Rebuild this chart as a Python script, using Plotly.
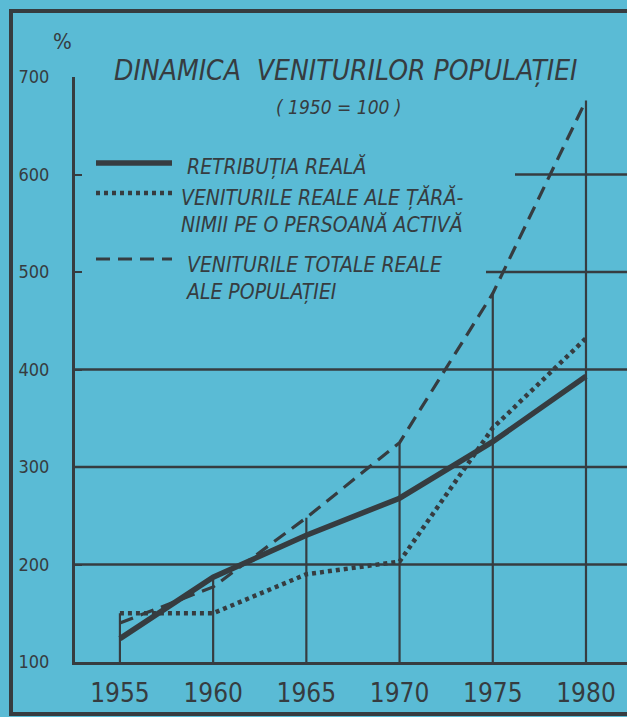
import plotly.graph_objects as go

# ---- data (1950 = 100) ----
years = [1955, 1960, 1965, 1970, 1975, 1980]
retributia_reala = [124, 187, 230, 268, 326, 393]
venituri_taranime = [150, 150, 190, 203, 340, 432]
venituri_totale = [140, 177, 248, 325, 478, 676]
y_ticks = [100, 200, 300, 400, 500, 600, 700]
x_ticks = [1955, 1960, 1965, 1970, 1975, 1980]

series_names = [
    "RETRIBUȚIA REALĂ",
    "VENITURILE REALE ALE ȚĂRĂ-<br>NIMII PE O PERSOANĂ ACTIVĂ",
    "VENITURILE TOTALE REALE<br>ALE POPULAȚIEI",
]

# ---- style ----
W, H = 627, 717
L, R, T, B = 75, 0, 77, 55
BG = "#5abbd5"
INK = "#363c40"
FONT = "Liberation Sans Narrow, DejaVu Sans Condensed, Arial Narrow, sans-serif"


def px2x(px):
    return (px - L) / (W - L - R)


def py2y(py):
    return (H - B - py) / (H - T - B)


fig = go.Figure()

# vertical drop lines from base to the highest series at each year
tops = [max(a, b, c) for a, b, c in zip(retributia_reala, venituri_taranime, venituri_totale)]
dx, dy = [], []
for yr, top in zip(years, tops):
    dx += [yr, yr, None]
    dy += [y_ticks[0], top, None]
fig.add_trace(go.Scatter(x=dx, y=dy, mode="lines", line=dict(color=INK, width=2.2),
                         hoverinfo="skip", showlegend=False))

fig.add_trace(go.Scatter(x=years, y=venituri_totale, mode="lines", name=series_names[2],
                         line=dict(color=INK, width=3.2, dash="14px,8px"), showlegend=False))
fig.add_trace(go.Scatter(x=years, y=venituri_taranime, mode="lines", name=series_names[1],
                         line=dict(color=INK, width=4.5, dash="4px,4px"), showlegend=False))
fig.add_trace(go.Scatter(x=years, y=retributia_reala, mode="lines", name=series_names[0],
                         line=dict(color=INK, width=5.5), showlegend=False))

shapes = []
# horizontal grid lines (upper ones start right of the legend)
grid_start = {200: 0.0, 300: 0.0, 400: 0.0, 500: px2x(486), 600: px2x(515)}
for v in y_ticks:
    if v in grid_start:
        shapes.append(dict(type="line", xref="paper", yref="y", x0=grid_start[v], x1=1.0,
                           y0=v, y1=v, line=dict(color=INK, width=2.4), layer="below"))

# outer frame
shapes.append(dict(type="rect", xref="paper", yref="paper", x0=px2x(11), x1=px2x(660),
                   y0=py2y(714), y1=py2y(11), line=dict(color=INK, width=4)))

# legend samples
leg = [(163, dict(color=INK, width=5.5)),
       (193, dict(color=INK, width=4.5, dash="4px,4px")),
       (259, dict(color=INK, width=3.2, dash="14px,8px"))]
for py, ln in leg:
    shapes.append(dict(type="line", xref="paper", yref="paper", x0=px2x(96), x1=px2x(172),
                       y0=py2y(py), y1=py2y(py), line=ln))

annotations = [
    dict(text="<i>DINAMICA  VENITURILOR POPULAȚIEI</i>", x=px2x(346), y=py2y(70),
         font=dict(size=28, color=INK, family=FONT)),
    dict(text="<i>( 1950 = 100 )</i>", x=px2x(339), y=py2y(107),
         font=dict(size=19, color=INK, family=FONT)),
    dict(text="%", x=px2x(62), y=py2y(42), font=dict(size=22, color=INK, family=FONT)),
    dict(text="<i>" + series_names[0] + "</i>", x=px2x(185), y=py2y(166), xanchor="left",
         font=dict(size=21, color=INK, family=FONT)),
    dict(text="<i>" + series_names[1] + "</i>", x=px2x(179), y=py2y(211), xanchor="left",
         align="left", font=dict(size=21, color=INK, family=FONT)),
    dict(text="<i>" + series_names[2] + "</i>", x=px2x(184), y=py2y(278), xanchor="left",
         align="left", font=dict(size=21, color=INK, family=FONT)),
]
for a in annotations:
    a.setdefault("xanchor", "center")
    a.update(xref="paper", yref="paper", yanchor="middle", showarrow=False)

fig.update_layout(
    width=W, height=H,
    margin=dict(l=L, r=R, t=T, b=B, pad=0),
    paper_bgcolor=BG, plot_bgcolor=BG,
    shapes=shapes, annotations=annotations,
    showlegend=False,
)
fig.update_xaxes(range=[1952.59, 1982.2], tickvals=x_ticks, ticktext=[str(t) for t in x_ticks],
                 showgrid=False, zeroline=False, showline=True, linecolor=INK, linewidth=3,
                 ticks="", ticklabelstandoff=6,
                 tickfont=dict(size=26, color=INK, family=FONT))
fig.update_yaxes(range=[100, 700], tickvals=y_ticks, showgrid=False, zeroline=False,
                 showline=True, linecolor=INK, linewidth=3, ticks="inside", ticklen=7,
                 tickwidth=2, tickcolor=INK, ticklabelstandoff=19,
                 tickfont=dict(size=18, color=INK, family=FONT))

fig.write_html(
    "out.html",
    config={"displayModeBar": False},
    post_script="document.body.style.margin='0';document.body.style.overflow='hidden';"
                "document.documentElement.style.overflow='hidden';",
)
